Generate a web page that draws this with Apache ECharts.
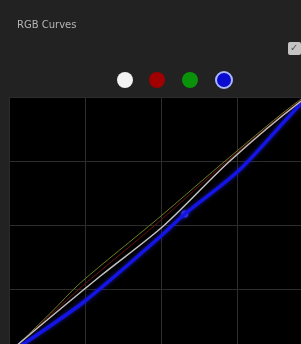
<!DOCTYPE html>
<html>
<head>
<meta charset="utf-8">
<script src="https://cdn.jsdelivr.net/npm/echarts@6/dist/echarts.min.js"></script>
<style>
html,body{margin:0;padding:0;background:#222;overflow:hidden;width:301px;height:344px;}
#c{width:313px;height:353px;}
</style>
</head>
<body>
<div id="c"></div>
<script>
// Curve data (input level 0-256 -> output level 0-256)
var whiteCurve = [[0,0],[8,9],[77,77],[130,127],[186,192],[245,251],[256,256]];
var redCurve   = [[0,0],[35,38],[62,67],[125,130],[186,194],[245,252],[256,256]];
var greenCurve = [[0,0],[35,40],[60,70],[125,134],[186,196],[245,253],[256,256]];
var blueCurve  = [[0,0],[11,8],[64,52],[127,116],[148,139],[194,183],[245,248],[256,256]];
var bluePoints = [[148,139]];
var channels = ['White','Red','Green','Blue'];
var channelColors = ['#f2f2f2','#a00000','#0a920a','#0a0ad0'];

var chart = echarts.init(document.getElementById('c'), null, {renderer:'canvas'});
var legendX = [125,157,190,224];
var graphics = [];
channels.forEach(function(name,i){
  graphics.push({
    type:'circle', shape:{cx:legendX[i], cy:80, r:8},
    style:{fill:channelColors[i], stroke: i===3 ? '#a8b8ff' : null, lineWidth: i===3 ? 2 : 0}
  });
});
graphics.push({type:'rect', shape:{x:288,y:42,width:13,height:13,r:2}, style:{fill:'#c4c4c4'}});
graphics.push({type:'text', x:290, y:43, style:{text:'✓', fill:'#555', font:'bold 10px DejaVu Sans'}});

chart.setOption({
  backgroundColor:'#222222',
  animation:false,
  title:{text:'RGB Curves', left:12, top:15, textStyle:{fontSize:10, fontWeight:'normal', color:'#b4b4b4', fontFamily:'DejaVu Sans'}},
  graphic: graphics,
  grid:{left:9, top:97, width:304, height:256, show:true, backgroundColor:'#000', borderWidth:0},
  xAxis:{type:'value', min:0, max:256, interval:64,
    axisLine:{show:false}, axisTick:{show:false}, axisLabel:{show:false},
    splitLine:{lineStyle:{color:'#2c2c2c', width:1}}},
  yAxis:{type:'value', min:0, max:256, interval:64,
    axisLine:{show:false}, axisTick:{show:false}, axisLabel:{show:false},
    splitLine:{lineStyle:{color:'#2c2c2c', width:1}}},
  series:[
    {name:'Blue', type:'line', data:blueCurve, smooth:0.3, showSymbol:false,
     lineStyle:{color:'#1414e6', width:3.5, shadowColor:'rgba(40,40,255,0.6)', shadowBlur:4}},
    {name:'Green', type:'line', data:greenCurve, smooth:0.3, showSymbol:false,
     lineStyle:{color:'#6e7d1e', width:1}},
    {name:'Red', type:'line', data:redCurve, smooth:0.3, showSymbol:false,
     lineStyle:{color:'#6a1010', width:1}},
    {name:'White', type:'line', data:whiteCurve, smooth:0.3, showSymbol:false,
     lineStyle:{color:'#c0c0c0', width:1.5}},
    {name:'Blue points', type:'scatter', data:bluePoints, symbolSize:7,
     itemStyle:{color:'#4040ff', shadowColor:'rgba(60,60,255,0.8)', shadowBlur:4}}
  ]
});
</script>
</body>
</html>
